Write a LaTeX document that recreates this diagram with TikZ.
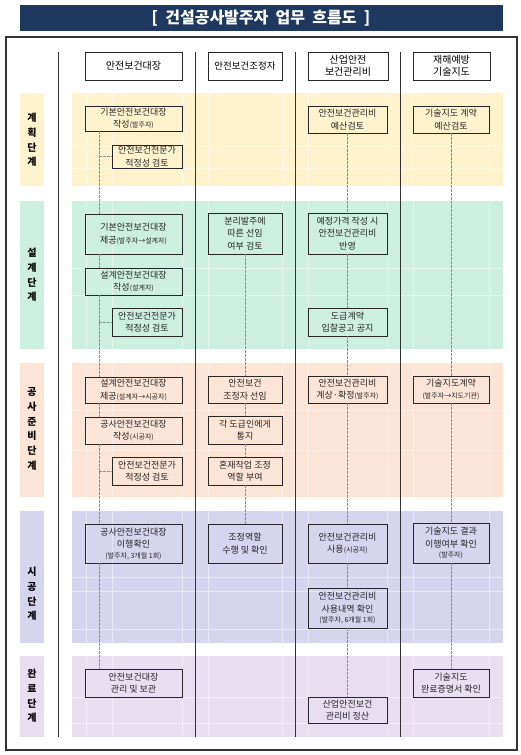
\documentclass[tikz,border=0pt]{standalone}
\usepackage{fontspec}
\setmainfont{Noto Sans CJK KR}
\tikzset{every node/.style={font=\fontsize{9}{12.5}\selectfont}}
\definecolor{titlecol}{RGB}{31,56,96}
\definecolor{plancol}{RGB}{255,243,205}
\definecolor{designcol}{RGB}{204,239,224}
\definecolor{prepcol}{RGB}{252,229,215}
\definecolor{buildcol}{RGB}{213,213,238}
\definecolor{donecol}{RGB}{232,222,240}
\colorlet{framecol}{black!80}
\colorlet{boxcol}{black!85}
\colorlet{linkcol}{black!45}
\newcommand{\sm}[1]{{\fontsize{7}{8}\selectfont #1}}

\begin{document}
\begin{tikzpicture}[x=1pt, y=-1pt,
  box/.style={draw=boxcol, line width=0.8pt, inner sep=0pt, align=center,
    text=black!85, minimum height=#1},
  big/.style={box=#1, minimum width=97pt},
  small/.style={box=#1, minimum width=70pt},
  midbox/.style={box=#1, minimum width=74pt},
  costbox/.style={box=#1, minimum width=79pt},
  techbox/.style={box=#1, minimum width=76pt},
  headbox/.style={draw=boxcol, line width=0.9pt, align=center, inner sep=0pt,
    minimum height=28pt, font=\fontsize{10}{12.5}\selectfont},
  link/.style={linkcol, line width=0.6pt, dash pattern=on 2.5pt off 1.5pt},
  cellline/.style={white, opacity=0.45, line width=0.6pt}]

  \useasboundingbox (0,0) rectangle (521,755);

  % Title bar.
  \node[fill=titlecol, text=white, minimum width=483pt, minimum height=26pt,
    font=\fontsize{16}{18}\selectfont\bfseries]
    (title) at (261,18) {[\ \ 건설공사발주자\ \ 업무\ \ 흐름도\ \ ]};

  % Outer frame.
  \draw[framecol, line width=1.1pt] (6,37) rectangle (517,750);

  % Phase bands, faint cell lines and labels.
  \foreach \t/\b/\c/\ly/\txt/\hl in {93/186/plancol/140/{계\\획\\단\\계}/{145,168},
      201/349/designcol/275/{설\\계\\단\\계}/{268,295},
      363/497/prepcol/429/{공\\사\\준\\비\\단\\계}/{410,450},
      511/643/buildcol/594/{시\\공\\단\\계}/{577,591,629},
      656/737/donecol/696/{완\\료\\단\\계}/{697,723}} {
    \fill[\c] (20,\t) rectangle (44,\b);
    \fill[\c] (72,\t) rectangle (503,\b);
    \foreach \x in {86,112,182,208,282,308,387,413,489}
      \draw[cellline] (\x,\t) -- (\x,\b);
    \foreach \y in \hl
      \draw[cellline] (72,\y) -- (503,\y);
    \node[align=center, font=\fontsize{10}{14.7}\selectfont\bfseries]
      at (32,\ly) {\txt};
  }

  % Column separators.
  \foreach \x in {58,195,295,400}
    \draw[framecol, line width=0.9pt] (\x,52) -- (\x,737);

  % Column headers.
  \node[headbox, minimum width=97pt] (h1) at (133.5,66) {안전보건대장};
  \node[headbox, minimum width=74pt, font=\fontsize{9.5}{12}\selectfont]
    (h2) at (245,66) {안전보건조정자};
  \node[headbox, minimum width=80pt] (h3) at (348,66) {산업안전\\보건관리비};
  \node[headbox, minimum width=77pt] (h4) at (451.5,66) {재해예방\\기술지도};

  % Safety and health ledger.
  \node[big=25pt] (a1) at (133.5,118.5) {기본안전보건대장\\작성\sm{(발주자)}};
  \node[small=23pt] (a1r) at (147,156.5) {안전보건전문가\\적정성 검토};
  \node[big=40pt] (a2) at (133.5,234) {기본안전보건대장\\제공\sm{(발주자→설계자)}};
  \node[big=27pt] (a2b) at (133.5,281.5) {설계안전보건대장\\작성\sm{(설계자)}};
  \node[small=28pt] (a2r) at (147,322) {안전보건전문가\\적정성 검토};
  \node[big=26pt] (a3) at (133.5,390) {설계안전보건대장\\제공\sm{(설계자→시공자)}};
  \node[big=27pt] (a3b) at (133.5,430.5) {공사안전보건대장\\작성\sm{(시공자)}};
  \node[small=28pt] (a3r) at (147,471) {안전보건전문가\\적정성 검토};
  \node[big=39pt] (a4) at (133.5,543.5)
    {공사안전보건대장\\이행확인\\[-2pt]\sm{(발주자, 3개월 1회)}};
  \node[big=28pt] (a5) at (133.5,683) {안전보건대장\\관리 및 보관};

  % Coordinator.
  \node[midbox=41pt] (b2) at (245,233.5) {분리발주에\\따른 선임\\여부 검토};
  \node[midbox=27pt] (b3) at (245,389.5) {안전보건\\조정자 선임};
  \node[midbox=28pt] (b3b) at (245,430) {각 도급인에게\\통지};
  \node[midbox=28pt] (b3c) at (245,471) {혼재작업 조정\\역할 부여};
  \node[midbox=39pt] (b4) at (245,543.5) {조정역할\\수행 및 확인};

  % Safety and health cost.
  \node[costbox=27pt] (c1) at (347.5,119.5) {안전보건관리비\\예산검토};
  \node[costbox=41pt] (c2) at (347.5,233.5) {예정가격 작성 시\\안전보건관리비\\반영};
  \node[costbox=28pt] (c2b) at (347.5,322) {도급계약\\입찰공고 공지};
  \node[costbox=27pt] (c3) at (347.5,389.5) {안전보건관리비\\계상·확정\sm{(발주자)}};
  \node[costbox=39pt] (c4) at (347.5,543.5) {안전보건관리비\\사용\sm{(시공자)}};
  \node[costbox=40pt] (c4b) at (347.5,608)
    {안전보건관리비\\사용내역 확인\\[-2pt]\sm{(발주자, 6개월 1회)}};
  \node[costbox=26pt] (c5) at (347.5,710) {산업안전보건\\관리비 정산};

  % Technical guidance.
  \node[techbox=27pt] (d1) at (451,119.5) {기술지도 계약\\예산검토};
  \node[techbox=27pt] (d3) at (451,389.5) {기술지도계약\\\sm{(발주자→지도기관)}};
  \node[techbox=40pt] (d4) at (451,543)
    {기술지도 결과\\이행여부 확인\\[-2pt]\sm{(발주자)}};
  \node[techbox=28pt] (d5) at (451,683) {기술지도\\완료증명서 확인};

  % Dashed flow lines.
  \coordinate (l1) at (99,0);
  \foreach \u/\v in {a1/a2, a2/a2b, a2b/a3, a3/a3b, a3b/a4, a4/a5}
    \draw[link] (\u.south -| l1) -- (\v.north -| l1);
  \foreach \r in {a1r, a2r, a3r}
    \draw[link] (\r.west -| l1) -- (\r.west);
  \foreach \u/\v in {b2/b3, b3/b3b, b3b/b3c, b3c/b4,
      c1/c2, c2/c2b, c2b/c3, c3/c4, c4/c4b, c4b/c5,
      d1/d3, d3/d4, d4/d5}
    \draw[link] (\u) -- (\v);

\end{tikzpicture}
\end{document}
